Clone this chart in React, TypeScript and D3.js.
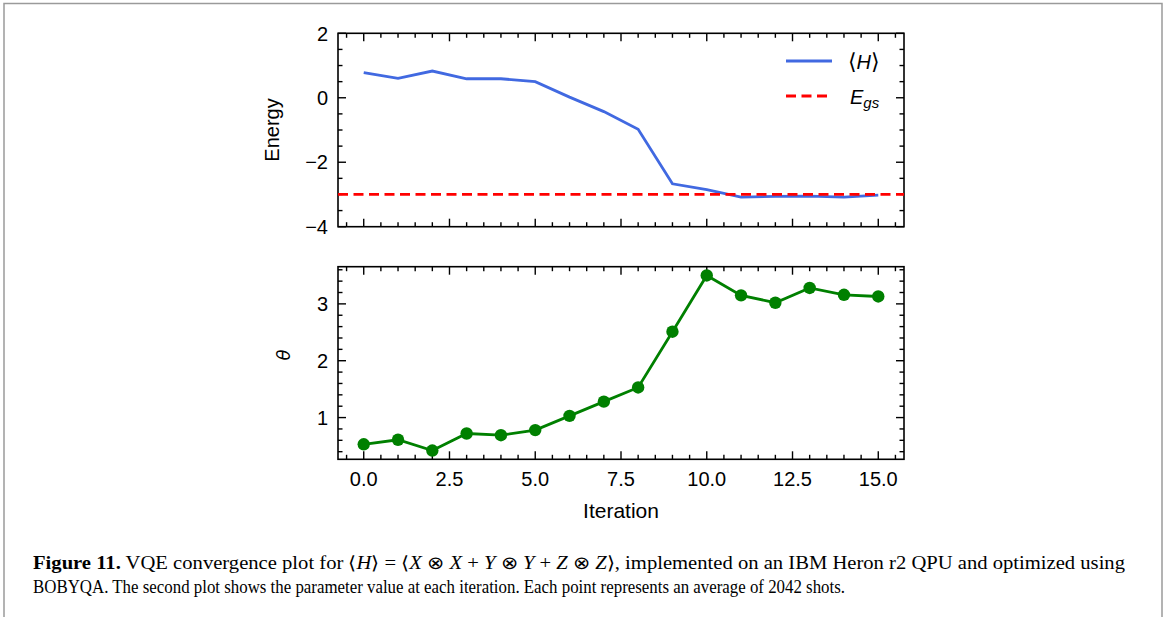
import React, { useEffect, useRef } from 'react';
import * as d3 from 'd3';

const iterations = [0, 1, 2, 3, 4, 5, 6, 7, 8, 9, 10, 11, 12, 13, 14, 15];
const energy = [0.78, 0.6, 0.83, 0.59, 0.59, 0.5, 0.02, -0.43, -0.98, -2.67, -2.85, -3.08, -3.06, -3.05, -3.08, -3.02];
const theta = [0.53, 0.61, 0.42, 0.72, 0.69, 0.78, 1.03, 1.28, 1.53, 2.51, 3.5, 3.15, 3.02, 3.28, 3.16, 3.13];
const groundEnergy = -3;
const xTicks = [0, 2.5, 5, 7.5, 10, 12.5, 15];
const energyTicks = [-4, -2, 0, 2];
const thetaTicks = [1, 2, 3];

const W = 1168;
const H = 617;
const FONT = '"Liberation Sans", Arial, sans-serif';

const App = () => {
  const svgRef = useRef<SVGSVGElement>(null);

  useEffect(() => {
    const svg = d3.select(svgRef.current);
    svg.selectAll('*').remove();

    // page frame
    svg.append('path')
      .attr('d', `M4,${H} L4,3.5 L1162,3.5 L1162,${H}`)
      .attr('fill', 'none')
      .attr('stroke', '#9a9a9a')
      .attr('stroke-width', 1.5);

    const left = 338, right = 904;
    const x = d3.scaleLinear().domain([-0.75, 15.75]).range([left, right]);

    const pad = (lo: number, hi: number) => [lo - (hi - lo) * 0.05, hi + (hi - lo) * 0.05];

    const yE = d3.scaleLinear().domain([-4, 2]).range([226.7, 33.3]);
    const [tLo, tHi] = pad(d3.min(theta)!, d3.max(theta)!);
    const yT = d3.scaleLinear().domain([tLo, tHi]).range([459.3, 266.7]);

    const drawFrame = (y: d3.ScaleLinear<number, number>, majorY: number[], minorStep: number, showX: boolean) => {
      const g = svg.append('g');
      const [top, bottom] = [y.range()[1], y.range()[0]];
      const [d0, d1] = y.domain();
      const xMinor = d3.range(-0.5, 15.75, 0.5).filter(v => Math.abs(v / 2.5 - Math.round(v / 2.5)) > 1e-6);
      const yMinor = d3.range(Math.ceil(d0 / minorStep) * minorStep, d1, minorStep)
        .filter(v => !majorY.some(m => Math.abs(m - v) < 1e-6));
      const tick = (x1: number, y1: number, x2: number, y2: number) =>
        g.append('line').attr('x1', x1).attr('y1', y1).attr('x2', x2).attr('y2', y2)
          .attr('stroke', '#000').attr('stroke-width', 1.4);
      xTicks.forEach(v => { tick(x(v), bottom, x(v), bottom - 8); tick(x(v), top, x(v), top + 8); });
      xMinor.forEach(v => { tick(x(v), bottom, x(v), bottom - 4.5); tick(x(v), top, x(v), top + 4.5); });
      majorY.forEach(v => { tick(left, y(v), left + 8, y(v)); tick(right, y(v), right - 8, y(v)); });
      yMinor.forEach(v => { tick(left, y(v), left + 4.5, y(v)); tick(right, y(v), right - 4.5, y(v)); });
      g.append('rect').attr('x', left).attr('y', top).attr('width', right - left).attr('height', bottom - top)
        .attr('fill', 'none').attr('stroke', '#000').attr('stroke-width', 1.6);
      majorY.forEach(v => {
        g.append('text').attr('x', left - 10).attr('y', y(v)).attr('dy', '0.36em')
          .attr('text-anchor', 'end').attr('font-family', FONT).attr('font-size', 20)
          .text(v < 0 ? `\u2212${Math.abs(v)}` : `${v}`);
      });
      if (showX) {
        xTicks.forEach(v => {
          g.append('text').attr('x', x(v)).attr('y', bottom + 27)
            .attr('text-anchor', 'middle').attr('font-family', FONT).attr('font-size', 20)
            .text(v.toFixed(1));
        });
      }
      return g;
    };

    // top panel
    const gE = drawFrame(yE, energyTicks, 0.5, false);
    const clip = svg.append('defs').append('clipPath').attr('id', 'clipE');
    clip.append('rect').attr('x', left).attr('y', 33.3).attr('width', right - left).attr('height', 193.4);
    gE.append('path')
      .datum(iterations.map((it, i) => [it, energy[i]] as [number, number]))
      .attr('d', d3.line().x(d => x(d[0])).y(d => yE(d[1])))
      .attr('fill', 'none').attr('stroke', '#4169e1').attr('stroke-width', 2.8);
    gE.append('line')
      .attr('clip-path', 'url(#clipE)')
      .attr('x1', left).attr('x2', right).attr('y1', yE(groundEnergy)).attr('y2', yE(groundEnergy))
      .attr('stroke', '#ff0000').attr('stroke-width', 2.8).attr('stroke-dasharray', '10,5.5');

    // legend
    gE.append('line').attr('x1', 786).attr('x2', 832).attr('y1', 61).attr('y2', 61)
      .attr('stroke', '#4169e1').attr('stroke-width', 2.8);
    gE.append('line').attr('x1', 786).attr('x2', 832).attr('y1', 96).attr('y2', 96)
      .attr('stroke', '#ff0000').attr('stroke-width', 2.8).attr('stroke-dasharray', '10,5.5');
    const lt1 = gE.append('text').attr('x', 848).attr('y', 69).attr('font-family', FONT).attr('font-size', 20);
    lt1.append('tspan').attr('font-family', '"DejaVu Sans", sans-serif').attr('font-size', 22).text('\u27E8');
    lt1.append('tspan').attr('font-style', 'italic').text('H');
    lt1.append('tspan').attr('font-family', '"DejaVu Sans", sans-serif').attr('font-size', 22).text('\u27E9');
    const lt2 = gE.append('text').attr('x', 850).attr('y', 104).attr('font-family', FONT).attr('font-size', 20).attr('font-style', 'italic');
    lt2.append('tspan').text('E');
    lt2.append('tspan').attr('font-size', 15).attr('dy', 4).text('gs');

    svg.append('text')
      .attr('transform', `translate(279,130) rotate(-90)`)
      .attr('text-anchor', 'middle').attr('font-family', FONT).attr('font-size', 20)
      .text('Energy');

    // bottom panel
    const gT = drawFrame(yT, thetaTicks, 0.2, true);
    gT.append('path')
      .datum(iterations.map((it, i) => [it, theta[i]] as [number, number]))
      .attr('d', d3.line().x(d => x(d[0])).y(d => yT(d[1])))
      .attr('fill', 'none').attr('stroke', '#008000').attr('stroke-width', 2.8);
    gT.selectAll('circle.pt')
      .data(iterations)
      .enter().append('circle')
      .attr('cx', d => x(d)).attr('cy', (d, i) => yT(theta[i])).attr('r', 6.2)
      .attr('fill', '#008000');

    svg.append('text')
      .attr('transform', `translate(290,355) rotate(-90)`)
      .attr('text-anchor', 'middle').attr('font-family', '"DejaVu Sans", sans-serif').attr('font-style', 'italic').attr('font-size', 18)
      .text('\u03B8');

    svg.append('text')
      .attr('x', 621).attr('y', 518)
      .attr('text-anchor', 'middle').attr('font-family', FONT).attr('font-size', 21)
      .text('Iteration');

    // caption
    const SERIF = '"Liberation Serif", "Times New Roman", serif';
    const c1 = svg.append('text').attr('x', 33).attr('y', 569).attr('font-family', SERIF).attr('font-size', 18)
      .attr('textLength', 1092).attr('lengthAdjust', 'spacingAndGlyphs');
    c1.append('tspan').attr('font-weight', 'bold').text('Figure 11.');
    c1.append('tspan').text(' VQE convergence plot for \u27E8');
    c1.append('tspan').attr('font-style', 'italic').text('H');
    c1.append('tspan').text('\u27E9 = \u27E8');
    c1.append('tspan').attr('font-style', 'italic').text('X');
    c1.append('tspan').text(' \u2297 ');
    c1.append('tspan').attr('font-style', 'italic').text('X');
    c1.append('tspan').text(' + ');
    c1.append('tspan').attr('font-style', 'italic').text('Y');
    c1.append('tspan').text(' \u2297 ');
    c1.append('tspan').attr('font-style', 'italic').text('Y');
    c1.append('tspan').text(' + ');
    c1.append('tspan').attr('font-style', 'italic').text('Z');
    c1.append('tspan').text(' \u2297 ');
    c1.append('tspan').attr('font-style', 'italic').text('Z');
    c1.append('tspan').text('\u27E9, implemented on an IBM Heron r2 QPU and optimized using');
    svg.append('text').attr('x', 33).attr('y', 593).attr('font-family', SERIF).attr('font-size', 18.5)
      .attr('textLength', 812).attr('lengthAdjust', 'spacingAndGlyphs')
      .text('BOBYQA. The second plot shows the parameter value at each iteration. Each point represents an average of 2042 shots.');
  }, []);

  return (
    <svg ref={svgRef} width={W} height={H}
      style={{ position: 'absolute', left: 0, top: 0, background: '#fff' }} />
  );
};

export default App;
